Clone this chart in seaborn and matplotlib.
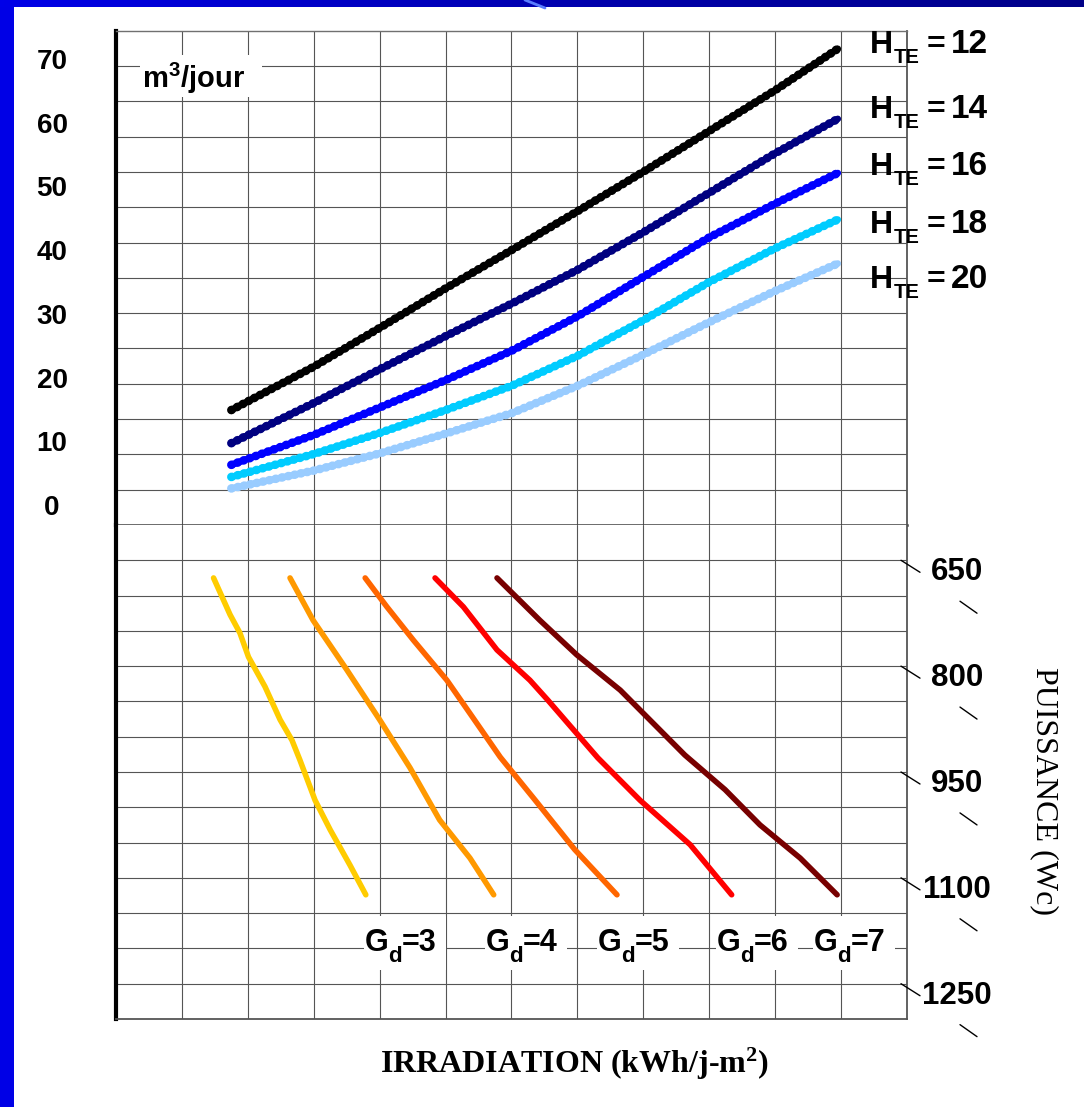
"""
Abaque de pompage solaire : débit journalier selon l'irradiation
(partie haute) et puissance crête selon G_d (partie basse)
"""

import numpy as np
import pandas as pd
import matplotlib
matplotlib.use('Agg')
import matplotlib.pyplot as plt
import seaborn as sns
from matplotlib.ticker import FixedLocator
from matplotlib.colors import LinearSegmentedColormap
from matplotlib.patches import Rectangle
from matplotlib.lines import Line2D

sns.set_theme(style='white')
plt.rcParams['font.family'] = ['Liberation Sans', 'DejaVu Sans']
plt.rcParams['mathtext.fontset'] = 'custom'
plt.rcParams['mathtext.default'] = 'regular'
plt.rcParams['text.color'] = 'black'
plt.rcParams['xtick.color'] = 'black'
plt.rcParams['ytick.color'] = 'black'

W, H = 1084, 1107

# --- partie haute : débit (m3/jour), abscisse en cases de grille
irradiation = [1.75, 3.0, 4.0, 5.0, 6.0, 7.0, 8.0, 9.0, 10.0, 10.95]
h_te = [12, 14, 16, 18, 20]
debit_12 = [14.9, 21.7, 27.8, 34.0, 40.0, 46.1, 52.3, 58.7, 65.1, 71.6]
debit_14 = [9.7, 16.0, 21.3, 26.5, 31.6, 36.9, 42.8, 49.0, 55.2, 60.6]
debit_16 = [6.3, 11.0, 15.3, 19.6, 24.2, 29.6, 35.8, 42.0, 47.3, 52.1]
debit_18 = [4.4, 8.0, 11.3, 14.9, 18.7, 23.4, 29.0, 35.0, 40.3, 44.8]
debit_20 = [2.6, 5.4, 8.1, 11.2, 14.4, 18.7, 23.6, 28.7, 33.6, 37.9]
couleurs_h = ['#000000', '#000080', '#0000FF', '#00CCFF', '#99CCFF']

# --- partie basse : puissance (Wc) pour chaque G_d
g_d = [3, 4, 5, 6, 7]
x_gd3 = [1.48, 1.73, 1.88, 2.01, 2.26, 2.49, 2.67, 2.79, 3.02, 3.25, 3.55, 3.79]
p_gd3 = [675, 727, 753, 787, 829, 876, 905, 933, 990, 1032, 1082, 1124]
x_gd4 = [2.64, 2.99, 3.50, 4.00, 4.46, 4.91, 5.37, 5.73]
p_gd4 = [675, 735, 805, 876, 944, 1018, 1072, 1124]
x_gd5 = [3.78, 4.11, 4.51, 5.02, 5.37, 5.83, 6.36, 6.96, 7.60]
p_gd5 = [675, 716, 763, 820, 867, 929, 990, 1060, 1124]
x_gd6 = [4.84, 5.27, 5.78, 6.28, 6.55, 7.31, 7.95, 8.71, 9.34]
p_gd6 = [675, 716, 777, 820, 848, 930, 990, 1053, 1124]
x_gd7 = [5.78, 6.43, 6.99, 7.65, 8.63, 9.24, 9.77, 10.38, 10.94]
p_gd7 = [675, 735, 784, 834, 926, 975, 1025, 1072, 1124]
couleurs_g = ['#FFCC00', '#FF9900', '#FF6600', '#FF0000', '#780000']

y_labels = [0, 10, 20, 30, 40, 50, 60, 70]
wc_labels = [650, 800, 950, 1100, 1250]
wc_minor = [725, 875, 1025, 1175, 1325]

df_haut = pd.concat([
    pd.DataFrame({'irradiation': irradiation, 'debit': d, 'H_TE': h})
    for h, d in zip(h_te, [debit_12, debit_14, debit_16, debit_18, debit_20])
])
df_bas = pd.concat([
    pd.DataFrame({'irradiation': x, 'puissance': p, 'G_d': g})
    for g, x, p in zip(g_d, [x_gd3, x_gd4, x_gd5, x_gd6, x_gd7],
                       [p_gd3, p_gd4, p_gd5, p_gd6, p_gd7])
])

fig = plt.figure(figsize=(W / 100, H / 100), dpi=100)
fig.patch.set_facecolor('white')


def fx(x):
    return x / W


def fy(y):
    return 1 - y / H


L, R = 116, 907
ax_top = fig.add_axes([fx(L), fy(525), (R - L) / W, (525 - 30.7) / H])
ax_bot = fig.add_axes([fx(L), fy(1019), (R - L) / W, (1019 - 525) / H])

# échelle haute : 0 -> 505 px, 70 -> 59 px
px_unit = (505 - 59) / 70
ylo, yhi = (505 - 525) / px_unit, (505 - 30.7) / px_unit

grid_kw = dict(color='#555555', linewidth=0.8)
for ax in (ax_top, ax_bot):
    ax.set_facecolor('white')
    ax.set_xlim(0, 12)
    ax.set_xticks([])
    ax.xaxis.set_minor_locator(FixedLocator(range(1, 12)))
    ax.grid(which='minor', **grid_kw)
    ax.grid(which='major', visible=False)
    ax.tick_params(which='both', length=0)
    ax.spines['left'].set_color('black')
    ax.spines['left'].set_linewidth(3)
    ax.spines['right'].set_color('#555555')
    ax.spines['right'].set_linewidth(1.3)

# --- haut
pal_h = dict(zip(h_te, couleurs_h))
sns.lineplot(data=df_haut, x='irradiation', y='debit', hue='H_TE',
             palette=pal_h, ax=ax_top, legend=False,
             estimator=None, sort=False, linewidth=4.8)
sns.lineplot(data=df_haut, x='irradiation', y='debit', hue='H_TE',
             palette=pal_h, ax=ax_top, legend=False,
             estimator=None, sort=False, linewidth=6.2,
             linestyle=(0, (0.05, 0.7)), dash_capstyle='round')
ax_top.set_ylim(ylo, yhi)
ax_top.set_yticks(y_labels)
ax_top.set_yticklabels([str(v) for v in y_labels], fontsize=20,
                       fontweight='bold', color='black')
for lbl in ax_top.get_yticklabels():
    lbl.set_horizontalalignment('center')
ax_top.tick_params(axis='y', pad=46)
ax_top.yaxis.set_minor_locator(FixedLocator(np.linspace(ylo, yhi, 15)[1:-1]))
ax_top.spines['top'].set_color('#707070')
ax_top.spines['top'].set_linewidth(1)
ax_top.spines['bottom'].set_color('#404040')
ax_top.spines['bottom'].set_linewidth(1.8)
ax_top.set_xlabel('')
ax_top.set_ylabel('')

# --- bas
sns.lineplot(data=df_bas, x='irradiation', y='puissance', hue='G_d',
             palette=dict(zip(g_d, couleurs_g)), ax=ax_bot, legend=False,
             estimator=None, sort=False, linewidth=4)
ax_bot.set_ylim(1300, 600)
ax_bot.set_yticks([])
ax_bot.yaxis.set_minor_locator(FixedLocator(np.arange(650, 1300, 50)))
ax_bot.spines['top'].set_visible(False)
ax_bot.spines['bottom'].set_color('#555555')
ax_bot.spines['bottom'].set_linewidth(1.3)
ax_bot.set_xlabel('')
ax_bot.set_ylabel('')

ytr = ax_bot.get_yaxis_transform()
for v in wc_labels:
    ax_bot.annotate('', xy=(1.0 - 6 / (R - L), v), xycoords=ytr,
                    xytext=(19, -12), textcoords='offset pixels',
                    arrowprops=dict(arrowstyle='-', lw=1, color='black',
                                    shrinkA=0, shrinkB=0),
                    annotation_clip=False)
    ax_bot.annotate(str(v), xy=(1 + 50 / (R - L), v), xycoords=ytr,
                    xytext=(0, -12), textcoords='offset pixels',
                    ha='center', va='center', fontsize=22.5, fontweight='bold',
                    annotation_clip=False)
for v in wc_minor:
    ax_bot.annotate('', xy=(1 + 70 / (R - L), v), xycoords=ytr,
                    xytext=(-17, 12), textcoords='offset pixels',
                    arrowprops=dict(arrowstyle='-', lw=1, color='black',
                                    shrinkA=0, shrinkB=0),
                    annotation_clip=False)


def white_box(x0, y0, x1, y1):
    fig.add_artist(Rectangle((fx(x0), fy(y1)), (x1 - x0) / W, (y1 - y0) / H,
                             transform=fig.transFigure, facecolor='white',
                             edgecolor='none', zorder=5))


# --- unité haute
white_box(140, 55, 262, 97)
fig.text(fx(142), fy(88), 'm$^{3}$/jour', fontsize=21, fontweight='bold',
         va='baseline', ha='left', zorder=6)

# --- étiquettes H_TE
h_base = [53, 118, 175, 233, 288]
for h, yb in zip(h_te, h_base):
    fig.text(fx(870), fy(yb), 'H', fontsize=23, fontweight='bold',
             va='baseline', ha='left', zorder=6)
    fig.text(fx(894), fy(yb + 10), 'TE', fontsize=14.5, fontweight='bold',
             va='baseline', ha='left', zorder=6)
    fig.text(fx(927), fy(yb), '=', fontsize=23, fontweight='bold',
             va='baseline', ha='left', zorder=6)
    fig.text(fx(951), fy(yb), str(h), fontsize=24, fontweight='bold',
             va='baseline', ha='left', zorder=6)

# --- étiquettes G_d
g_left = [366, 487, 599, 718, 815]
for g, xl in zip(g_d, g_left):
    white_box(xl - 2, 916, xl + 80, 970)
    fig.text(fx(xl - 1), fy(951), 'G', fontsize=22, fontweight='bold',
             va='baseline', ha='left', zorder=6)
    fig.text(fx(xl + 22), fy(962), 'd', fontsize=16, fontweight='bold',
             va='baseline', ha='left', zorder=6)
    fig.text(fx(xl + 36), fy(951), f'={g}', fontsize=22, fontweight='bold',
             va='baseline', ha='left', zorder=6)

fig.text(fx(574), fy(1073), 'IRRADIATION (kWh/j-m$^{2}$)',
         family='Liberation Serif', fontweight='bold', fontsize=23,
         ha='center', va='baseline')
fig.text(fx(1044), fy(791), 'PUISSANCE (Wc)', family='Liberation Serif',
         fontsize=23, rotation=270, ha='center', va='center')

# --- cadre bleu
fig.add_artist(Rectangle((0, 0), 14 / W, 1, transform=fig.transFigure,
                         facecolor='#0000E6', edgecolor='none', zorder=20))
ax_band = fig.add_axes([0, fy(7), 1, 7 / H], zorder=20)
cmap_band = LinearSegmentedColormap.from_list('band', ['#0000E8', '#0000B0', '#000088'])
ax_band.imshow(np.linspace(0, 1, 256)[None, :], aspect='auto', cmap=cmap_band,
               extent=(0, 1, 0, 1))
ax_band.axis('off')
fig.add_artist(Line2D([fx(525), fx(545)], [1, fy(8)], transform=fig.transFigure,
                      color='#5A7DFF', lw=2, zorder=21))

plt.savefig('out.png', dpi=100)
plt.close()
